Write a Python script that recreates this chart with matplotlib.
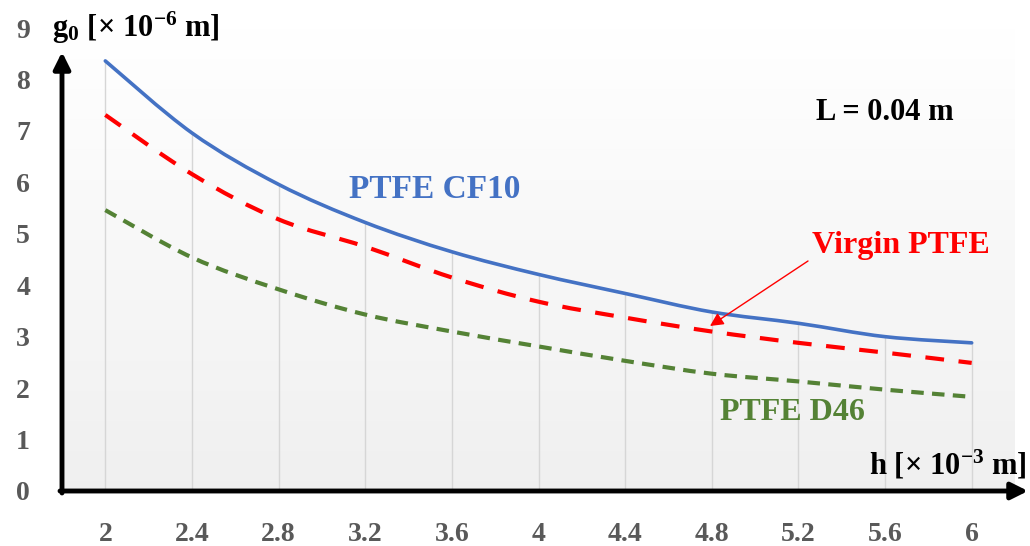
import numpy as np
import matplotlib
matplotlib.use("Agg")
import matplotlib.pyplot as plt
from matplotlib.path import Path
from matplotlib.patches import PathPatch, FancyArrowPatch

# ---- data ----
h_values = [2.0, 2.4, 2.8, 3.2, 3.6, 4.0, 4.4, 4.8, 5.2, 5.6, 6.0]
h_labels = ["2", "2.4", "2.8", "3.2", "3.6", "4", "4.4", "4.8", "5.2", "5.6", "6"]
g_cf10 = [8.36, 6.96, 5.96, 5.22, 4.65, 4.21, 3.84, 3.48, 3.26, 3.00, 2.88]
g_virgin = [7.31, 6.16, 5.28, 4.75, 4.15, 3.68, 3.37, 3.10, 2.88, 2.69, 2.49]
g_d46 = [5.46, 4.54, 3.92, 3.43, 3.10, 2.81, 2.53, 2.28, 2.13, 1.97, 1.83]
y_ticks = [0, 1, 2, 3, 4, 5, 6, 7, 8, 9]

SERIF = "Liberation Serif"
plt.rcParams["font.family"] = [SERIF, "DejaVu Serif"]
plt.rcParams["mathtext.fontset"] = "custom"
plt.rcParams["mathtext.rm"] = SERIF + ":bold"
plt.rcParams["mathtext.it"] = SERIF + ":bold:italic"
plt.rcParams["mathtext.bf"] = SERIF + ":bold"

W, H = 1030, 546
fig = plt.figure(figsize=(W / 100, H / 100), dpi=100)
fig.patch.set_facecolor("white")

left_px, right_px, top_px, bot_px = 62, 1015, 28, 491
ax = fig.add_axes([left_px / W, 1 - bot_px / H, (right_px - left_px) / W, (bot_px - top_px) / H])
ax.set_xlim(1.8, 6.2)
ax.set_ylim(0, 9)
ax.set_facecolor("none")

# gradient background
grad = np.linspace(1.0, 0.0, 256).reshape(-1, 1)
top_c = np.array([1.0, 1.0, 1.0])
bot_c = np.array([0.94, 0.94, 0.94])
img = top_c * grad[..., None] + bot_c * (1 - grad[..., None])
ax.imshow(img, extent=[0, 1, 0, 1], transform=ax.transAxes, aspect="auto", zorder=0)

# drop lines
ax.vlines(h_values, 0, g_cf10, colors="#d6d6d6", linewidth=1.0, zorder=1)


def smooth_path(xs, ys):
    """Excel-style smoothed line: cubic Bezier through the data points."""
    pts = np.column_stack([xs, ys]).astype(float)
    n = len(pts)
    verts = [pts[0]]
    codes = [Path.MOVETO]
    for i in range(n - 1):
        p0 = pts[i - 1] if i > 0 else pts[i]
        p1 = pts[i]
        p2 = pts[i + 1]
        p3 = pts[i + 2] if i + 2 < n else pts[i + 1]
        c1 = p1 + (p2 - p0) / 6.0
        c2 = p2 - (p3 - p1) / 6.0
        verts += [c1, c2, p2]
        codes += [Path.CURVE4] * 3
    return Path(verts, codes)


ax.add_patch(PathPatch(smooth_path(h_values, g_cf10), facecolor="none", edgecolor="#4472C4",
                       linewidth=2.6, capstyle="round", zorder=3))
ax.add_patch(PathPatch(smooth_path(h_values, g_virgin), facecolor="none", edgecolor="#FF0000",
                       linewidth=3.0, linestyle=(0, (4.5, 3.5)), zorder=3))
ax.add_patch(PathPatch(smooth_path(h_values, g_d46), facecolor="none", edgecolor="#548235",
                       linewidth=3.0, linestyle=(0, (3.0, 2.0)), zorder=3))

for s in ax.spines.values():
    s.set_visible(False)

ax.set_xticks(h_values)
ax.set_xticklabels(h_labels)
ax.set_yticks(y_ticks)
ax.tick_params(axis="both", length=0, labelsize=20, labelcolor="#595959")
ax.tick_params(axis="x", pad=22)
ax.tick_params(axis="y", pad=23)
for lab in ax.get_xticklabels() + ax.get_yticklabels():
    lab.set_fontweight("bold")


def fp(x, y):
    return (x / W, 1 - y / H)


# axis arrows
fig.patches.append(FancyArrowPatch(
    fp(62, 493), fp(62, 52), transform=fig.transFigure, arrowstyle="-|>,head_length=10,head_width=5",
    mutation_scale=1, linewidth=3.5, color="black", shrinkA=0, shrinkB=0))
fig.patches.append(FancyArrowPatch(
    fp(60, 491), fp(1028, 491), transform=fig.transFigure, arrowstyle="-|>,head_length=10,head_width=5",
    mutation_scale=1, linewidth=3.5, color="black", shrinkA=0, shrinkB=0))

# texts
fig.text(52 / W, 1 - 28 / H, r"$\mathrm{g_0\ [\times\ 10^{-6}\ m]}$", fontsize=22, color="black",
         ha="left", va="center")
fig.text(1027 / W, 1 - 465 / H, r"$\mathrm{h\ [\times\ 10^{-3}\ m]}$", fontsize=22, color="black",
         ha="right", va="center")
fig.text(885 / W, 1 - 113 / H, "L = 0.04 m", fontsize=22, fontweight="bold", color="black",
         ha="center", va="center")
fig.text(435 / W, 1 - 190 / H, "PTFE CF10", fontsize=24, fontweight="bold", color="#4472C4",
         ha="center", va="center")
fig.text(792 / W, 1 - 412 / H, "PTFE D46", fontsize=23, fontweight="bold", color="#548235",
         ha="center", va="center")
fig.text(901 / W, 1 - 245 / H, "Virgin PTFE", fontsize=23, fontweight="bold", color="#FF0000",
         ha="center", va="center")
fig.patches.append(FancyArrowPatch(
    fp(808, 261), fp(710, 326), transform=fig.transFigure, arrowstyle="-|>,head_length=8,head_width=4",
    mutation_scale=1, linewidth=1.0, color="#FF0000", shrinkA=0, shrinkB=0))

fig.savefig("out.png", dpi=100)
